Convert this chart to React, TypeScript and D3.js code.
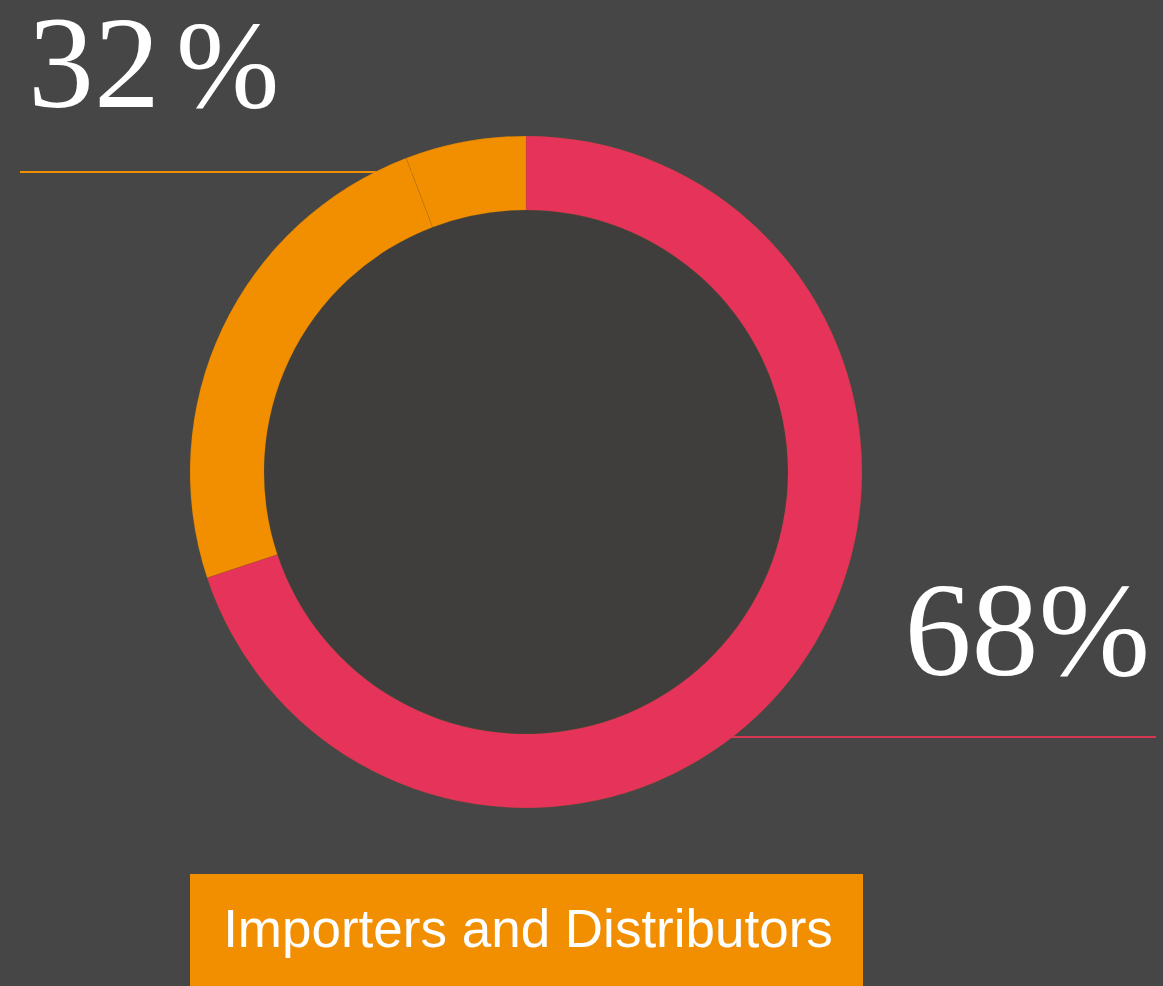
import React from "react";
import * as d3 from "d3";

// Data
const segmentNames = ["Importers and Distributors", "Other A", "Other B"];
const segmentValues = [69.9, 24.3, 5.8];
const labelValues = ["68", "32"];
const labelSuffix = "%";
const legendTitle = "Importers and Distributors";

const W = 1163;
const H = 986;
const COLORS = ["#e6335a", "#f28f00", "#f28f00"];

export default function App() {
  const cx = 526;
  const cy = 472;
  const rOuter = 336;
  const rInner = 262;

  const pie = d3
    .pie<number>()
    .sort(null)
    .value((d) => d)
    .startAngle(0)
    .endAngle(2 * Math.PI);
  const arcs = pie(segmentValues);
  const arc = d3.arc<d3.PieArcDatum<number>>().innerRadius(rInner).outerRadius(rOuter);

  return (
    <svg
      width={W}
      height={H}
      style={{ position: "absolute", left: 0, top: 0, display: "block" }}
    >
      <rect x={0} y={0} width={W} height={H} fill="#464646" />
      {/* leader lines */}
      <line x1={20} x2={cx} y1={172} y2={172} stroke="#f28f00" strokeWidth={2} />
      <line x1={cx} x2={1156} y1={737} y2={737} stroke="#d63652" strokeWidth={2} />
      <g transform={`translate(${cx},${cy})`}>
        <circle r={rInner} fill="#403e3c" />
        {arcs.map((a, i) => (
          <path
            key={segmentNames[i]}
            d={arc(a) || ""}
            fill={COLORS[i]}
            stroke="rgba(140,90,20,0.35)"
            strokeWidth={0.5}
          />
        ))}
      </g>
      <text
        x={28}
        y={107}
        fill="#ffffff"
        fontFamily="'Liberation Serif', serif"
        fontSize={132}
      >
        {labelValues[1]}
        <tspan dx={16} fontSize={124}>
          {labelSuffix}
        </tspan>
      </text>
      <text
        x={1150}
        y={675}
        textAnchor="end"
        fill="#ffffff"
        fontFamily="'Liberation Serif', serif"
        fontSize={134}
      >
        {labelValues[0] + labelSuffix}
      </text>
      <rect x={190} y={874} width={673} height={120} fill="#f28f00" />
      <text
        x={528}
        y={947}
        textAnchor="middle"
        fill="#ffffff"
        fontFamily="'Liberation Sans', Arial, sans-serif"
        fontSize={53}
      >
        {legendTitle}
      </text>
    </svg>
  );
}
